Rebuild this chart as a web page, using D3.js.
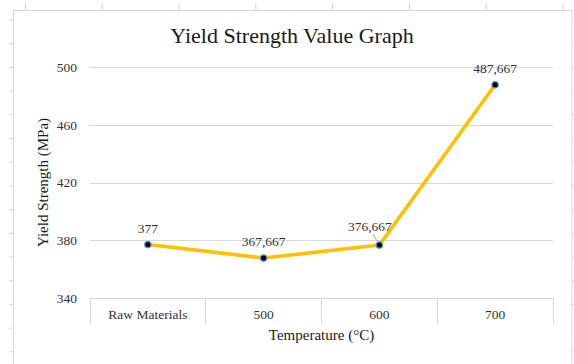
<!DOCTYPE html>
<html>
<head>
<meta charset="utf-8">
<script src="https://cdn.jsdelivr.net/npm/d3@7"></script>
<style>
  html, body { margin: 0; padding: 0; background: #fff; }
  svg { display: block; }
  text { font-family: "Liberation Serif", "Times New Roman", serif; }
</style>
</head>
<body>
<svg id="chart" width="574" height="364"></svg>
<script>
// Yield strength per heat-treatment temperature
const categories = ["Raw Materials", "500", "600", "700"];
const yieldStrength = [377, 367.667, 376.667, 487.667];
const valueLabels = ["377", "367,667", "376,667", "487,667"];
const yTicks = [340, 380, 420, 460, 500];

const svg = d3.select("#chart");

// worksheet cell grid peeking around the chart frame
const sheetCols = d3.range(8).map(i => 25.5 + i * 76.8);
const sheetRows = d3.range(15).map(i => 20 + i * 23.7);
const sheet = svg.append("g").attr("stroke", "#d4d4d4").attr("stroke-width", 1);
sheet.selectAll("line.c").data(sheetCols).join("line")
  .attr("x1", d => d).attr("x2", d => d).attr("y1", 3).attr("y2", 10);
sheet.selectAll("line.l").data(sheetRows).join("line")
  .attr("x1", 9).attr("x2", 13.5).attr("y1", d => d).attr("y2", d => d);
sheet.selectAll("line.r").data(sheetRows).join("line")
  .attr("x1", 572).attr("x2", 576).attr("y1", d => d).attr("y2", d => d);

// chart frame
svg.append("rect")
  .attr("x", 13.5).attr("y", 10.5).attr("width", 558.5).attr("height", 360)
  .attr("fill", "#fff").attr("stroke", "#d9d9d9").attr("stroke-width", 1);

// plot area
const plot = { left: 90, right: 553, top: 67, bottom: 298 };

const x = d3.scaleBand().domain(categories).range([plot.left, plot.right]).paddingInner(0).paddingOuter(0);
const y = d3.scaleLinear().domain([340, 500]).range([plot.bottom, plot.top]);

const textColor = "#333333";

// horizontal gridlines + value axis labels
const yAxis = d3.axisLeft(y).tickValues(yTicks).tickSize(-(plot.right - plot.left)).tickPadding(13);
const gy = svg.append("g").attr("transform", `translate(${plot.left},0)`).call(yAxis);
gy.select(".domain").remove();
gy.selectAll(".tick line").attr("stroke", "#d9d9d9").attr("shape-rendering", "crispEdges");
gy.selectAll(".tick text")
  .attr("font-family", "Liberation Serif, serif").attr("font-size", 13.5).attr("fill", textColor);

// category axis drawn as a table row with separators
const gx = svg.append("g");
gx.append("line")
  .attr("x1", plot.left).attr("x2", plot.right).attr("y1", y(340)).attr("y2", y(340))
  .attr("stroke", "#d9d9d9").attr("shape-rendering", "crispEdges");
const seps = categories.map(c => x(c)).concat([x(categories[categories.length - 1]) + x.bandwidth()]);
gx.selectAll("line.sep").data(seps).join("line")
  .attr("class", "sep")
  .attr("x1", d => d).attr("x2", d => d).attr("y1", y(340)).attr("y2", y(340) + 26)
  .attr("stroke", "#d9d9d9").attr("shape-rendering", "crispEdges");
gx.selectAll("text").data(categories).join("text")
  .attr("x", d => x(d) + x.bandwidth() / 2)
  .attr("y", y(340) + 21)
  .attr("text-anchor", "middle")
  .attr("font-size", 13.5).attr("fill", textColor)
  .text(d => d);

// series line
const pts = categories.map((c, i) => ({ c, v: yieldStrength[i], label: valueLabels[i] }));
const line = d3.line().x(d => x(d.c) + x.bandwidth() / 2).y(d => y(d.v));
svg.append("path").datum(pts)
  .attr("d", line)
  .attr("fill", "none").attr("stroke", "#FFC000").attr("stroke-width", 3.6)
  .attr("stroke-linejoin", "round").attr("stroke-linecap", "round");

// data label offsets (the 600 °C label is nudged left with a leader line)
const labelDx = [0, 0, -9.5, 0];
const labelDy = [-12, -12, -14, -12];

// leader line for the nudged label
svg.append("line")
  .attr("x1", x(categories[2]) + x.bandwidth() / 2 - 6.5)
  .attr("y1", y(yieldStrength[2]) - 11)
  .attr("x2", x(categories[2]) + x.bandwidth() / 2 - 2)
  .attr("y2", y(yieldStrength[2]) - 3.5)
  .attr("stroke", "#a6a6a6").attr("stroke-width", 1);

// markers
svg.selectAll("circle.pt").data(pts).join("circle")
  .attr("class", "pt")
  .attr("cx", d => x(d.c) + x.bandwidth() / 2)
  .attr("cy", d => y(d.v))
  .attr("r", 3.2)
  .attr("fill", "#000").attr("stroke", "#5b9bd5").attr("stroke-width", 1.3);

// value labels
svg.selectAll("text.val").data(pts).join("text")
  .attr("class", "val")
  .attr("x", (d, i) => x(d.c) + x.bandwidth() / 2 + labelDx[i])
  .attr("y", (d, i) => y(d.v) + labelDy[i])
  .attr("text-anchor", "middle")
  .attr("font-size", 13.5).attr("fill", textColor)
  .text(d => d.label);

// titles
svg.append("text")
  .attr("x", 292).attr("y", 43)
  .attr("text-anchor", "middle")
  .attr("font-size", 22).attr("fill", "#1a1a1a")
  .text("Yield Strength Value Graph");

svg.append("text")
  .attr("x", (plot.left + plot.right) / 2).attr("y", 340)
  .attr("text-anchor", "middle")
  .attr("font-size", 15).attr("fill", "#1a1a1a")
  .text("Temperature (°C)");

svg.append("text")
  .attr("transform", `translate(48,${(plot.top + plot.bottom) / 2}) rotate(-90)`)
  .attr("text-anchor", "middle")
  .attr("font-size", 15).attr("fill", "#1a1a1a")
  .text("Yield Strength (MPa)");
</script>
</body>
</html>
